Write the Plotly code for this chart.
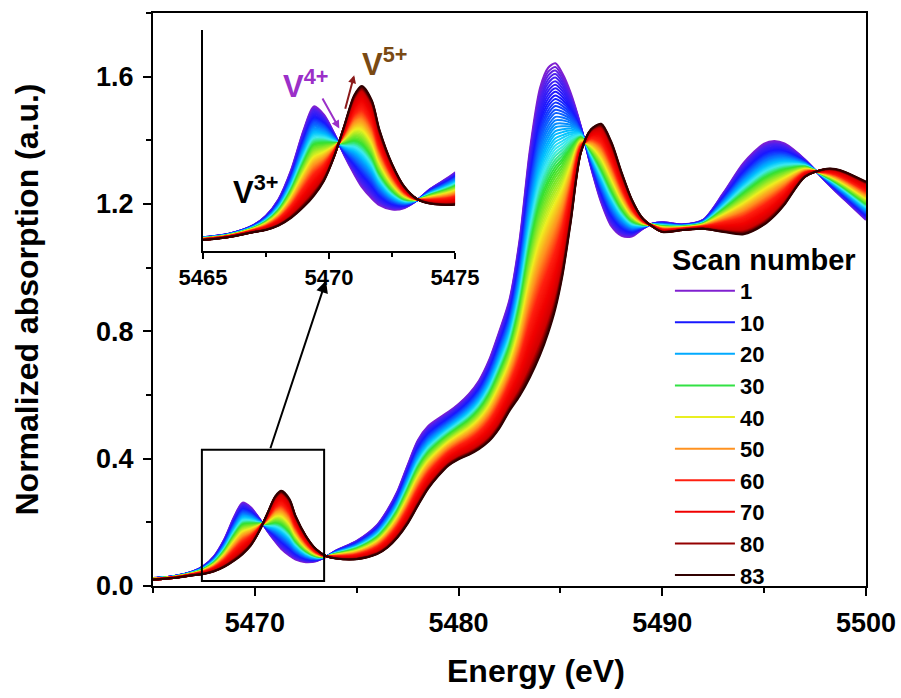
import plotly.graph_objects as go
from plotly.colors import sample_colorscale

# ---------------- data ----------------
energy = [5465, 5466, 5467, 5467.5, 5468, 5468.5, 5469, 5469.4, 5469.8, 5470.2,
          5470.6, 5471.0, 5471.3, 5471.7, 5472.0, 5472.5, 5473.0, 5473.5, 5474.0, 5475.0,
          5476.0, 5476.5, 5477.0, 5477.5, 5478.0, 5478.5, 5479.0, 5479.5, 5480.0, 5480.5,
          5481.0, 5481.5, 5482.0, 5482.5, 5483.0, 5483.5, 5484.0, 5484.4, 5484.75, 5485.1,
          5485.5, 5486.0, 5486.5, 5487.0, 5487.5, 5488.0, 5488.5, 5489.0, 5489.5, 5490.0,
          5491.0, 5492.0, 5493.0, 5494.0, 5495.0, 5495.5, 5496.0, 5497.0, 5498.0, 5498.5,
          5499.0, 5500.0]

# scan 1 (V4+ rich, purple)
scan_first = [0.025, 0.031, 0.047, 0.064, 0.094, 0.147, 0.220, 0.262, 0.247, 0.214,
              0.174, 0.139, 0.116, 0.095, 0.083, 0.075, 0.078, 0.092, 0.112, 0.142,
              0.192, 0.238, 0.298, 0.380, 0.458, 0.502, 0.526, 0.547, 0.572, 0.603,
              0.645, 0.710, 0.800, 0.900, 1.090, 1.370, 1.565, 1.628, 1.642, 1.610,
              1.550, 1.445, 1.315, 1.205, 1.130, 1.100, 1.098, 1.120, 1.138, 1.143,
              1.136, 1.150, 1.235, 1.330, 1.390, 1.398, 1.390, 1.340, 1.272, 1.240,
              1.210, 1.150]

# scan 83 (V5+ rich, dark red)
scan_last = [0.020, 0.025, 0.034, 0.038, 0.046, 0.060, 0.080, 0.100, 0.127, 0.170,
             0.226, 0.282, 0.299, 0.273, 0.220, 0.158, 0.116, 0.094, 0.086, 0.084,
             0.100, 0.120, 0.152, 0.196, 0.252, 0.305, 0.345, 0.378, 0.398, 0.412,
             0.430, 0.455, 0.495, 0.550, 0.597, 0.655, 0.725, 0.795, 0.870, 0.975,
             1.140, 1.360, 1.435, 1.452, 1.395, 1.300, 1.215, 1.158, 1.130, 1.112,
             1.118, 1.122, 1.112, 1.105, 1.135, 1.162, 1.198, 1.285, 1.310, 1.310,
             1.300, 1.270]

scan_numbers = list(range(1, 84))

# estimated V5+ fraction of each scan (read from band spacing)
v5_fraction = [0.000, 0.015, 0.029, 0.044, 0.058, 0.073, 0.087, 0.102, 0.116, 0.131,
               0.145, 0.160, 0.174, 0.189, 0.203, 0.218, 0.232, 0.247, 0.261, 0.276,
               0.290, 0.305, 0.319, 0.334, 0.348, 0.363, 0.377, 0.392, 0.406, 0.421,
               0.435, 0.450, 0.464, 0.479, 0.493, 0.508, 0.522, 0.537, 0.551, 0.566,
               0.576, 0.586, 0.596, 0.606, 0.616, 0.626, 0.636, 0.646, 0.656, 0.667,
               0.677, 0.687, 0.697, 0.707, 0.717, 0.727, 0.737, 0.747, 0.757, 0.768,
               0.778, 0.788, 0.798, 0.808, 0.818, 0.828, 0.838, 0.848, 0.858, 0.869,
               0.879, 0.889, 0.899, 0.909, 0.919, 0.929, 0.939, 0.949, 0.959, 0.970,
               0.980, 0.990, 1.000]

legend_scans = [1, 10, 20, 30, 40, 50, 60, 70, 80, 83]

# ---------------- styling ----------------
rainbow = [[0.00, '#8020d0'], [0.04, '#4a20f0'], [0.11, '#1818ff'], [0.19, '#0878ff'],
           [0.25, '#00c0ff'], [0.30, '#40ecf0'], [0.36, '#30e030'], [0.48, '#f0f020'],
           [0.60, '#ff9020'], [0.72, '#ff2010'], [0.84, '#f00000'], [0.94, '#d00000'],
           [0.965, '#900000'], [1.00, '#300000']]

FONT = 'Liberation Sans, Arial, sans-serif'

fig = go.Figure()
for n, f in zip(scan_numbers, v5_fraction):
    y = [(1 - f) * a + f * b for a, b in zip(scan_first, scan_last)]
    col = sample_colorscale(rainbow, (n - 1) / 82)[0]
    line = dict(color=col, width=2, shape='spline', smoothing=0.8)
    fig.add_trace(go.Scatter(x=energy, y=y, mode='lines', line=line, name=str(n),
                             legendgroup=str(n), showlegend=n in legend_scans,
                             hoverinfo='skip'))
    fig.add_trace(go.Scatter(x=energy, y=y, mode='lines', line=line, name=str(n),
                             xaxis='x2', yaxis='y2', showlegend=False, hoverinfo='skip'))

fig.update_layout(
    width=901, height=698,
    margin=dict(l=153, r=35, t=13, b=112, autoexpand=False),
    plot_bgcolor='white', paper_bgcolor='white',
    font=dict(family=FONT, color='black'),
    xaxis=dict(range=[5465, 5500], tickmode='linear', tick0=5470, dtick=10,
               ticks='outside', ticklen=8, tickwidth=2, tickcolor='black',
               ticklabelstandoff=4,
               showline=True, linewidth=2, linecolor='black', mirror=True,
               showgrid=False, zeroline=False,
               tickfont=dict(size=27, weight='bold'),
               minor=dict(tick0=5465, dtick=5, ticks='outside', ticklen=5,
                          tickwidth=2, tickcolor='black')),
    yaxis=dict(range=[0, 1.8], tickmode='linear', tick0=0, dtick=0.4, tickformat='.1f',
               ticks='outside', ticklen=8, tickwidth=2, tickcolor='black',
               ticklabelstandoff=4,
               showline=True, linewidth=2, linecolor='black', mirror=True,
               showgrid=False, zeroline=False,
               tickfont=dict(size=27, weight='bold'),
               minor=dict(tick0=0.2, dtick=0.4, ticks='outside', ticklen=5,
                          tickwidth=2, tickcolor='black'),
               title=dict(text='Normalized absorption (a.u.)',
                          font=dict(size=32, weight='bold'), standoff=48)),
    xaxis2=dict(domain=[0.070, 0.4236], anchor='y2', range=[5465, 5475],
                tickvals=[5465, 5470, 5475], ticks='outside', ticklen=6, tickwidth=2,
                tickcolor='black', showline=True, linewidth=2, linecolor='black',
                showgrid=False, zeroline=False,
                tickfont=dict(size=22, weight='bold'),
                minor=dict(tick0=5465, dtick=2.5, ticks='outside', ticklen=4,
                           tickwidth=2, tickcolor='black')),
    yaxis2=dict(domain=[0.5846, 0.970], anchor='x2', range=[0, 0.4],
                showticklabels=False, ticks='', showline=True, linewidth=2,
                linecolor='black', showgrid=False, zeroline=False),
    legend=dict(x=0.725, y=0.6175, xanchor='left', yanchor='top',
                bgcolor='rgba(0,0,0,0)', itemwidth=60, tracegroupgap=0,
                font=dict(size=22, weight='bold'),
                title=dict(text='Scan number', font=dict(size=29, weight='bold'))),
    showlegend=True,
)

# zoom box on the pre-edge
fig.add_shape(type='rect', xref='x', yref='y', x0=5467.4, x1=5473.4, y0=0.016, y1=0.428,
              line=dict(color='black', width=2))

annotations = [
    dict(x=5473.49, y=0.959, ax=5470.74, ay=0.428, xref='x', yref='y', axref='x', ayref='y',
         showarrow=True, arrowhead=2, arrowsize=1.2, arrowwidth=2, arrowcolor='black', text=''),
    dict(x=5470.41, y=0.222, ax=5469.71, ay=0.279, xref='x2', yref='y2', axref='x2', ayref='y2',
         showarrow=True, arrowhead=2, arrowsize=0.8, arrowwidth=2, arrowcolor='#9b30c8', text=''),
    dict(x=5471.0, y=0.3186, ax=5470.63, ay=0.255, xref='x2', yref='y2', axref='x2', ayref='y2',
         showarrow=True, arrowhead=2, arrowsize=0.8, arrowwidth=2, arrowcolor='#8b1a1a', text=''),
    dict(x=5467.1, y=0.110, xref='x2', yref='y2', showarrow=False,
         text='V<sup>3+</sup>', font=dict(size=31, color='black', weight='bold')),
    dict(x=5469.05, y=0.302, xref='x2', yref='y2', showarrow=False,
         text='V<sup>4+</sup>', font=dict(size=31, color='#9b30c8', weight='bold')),
    dict(x=5472.2, y=0.342, xref='x2', yref='y2', showarrow=False,
         text='V<sup>5+</sup>', font=dict(size=31, color='#7a4a14', weight='bold')),
    # x-axis title
    dict(x=0.537, y=-0.1475, xref='paper', yref='paper', showarrow=False,
         xanchor='center', yanchor='middle', text='Energy (eV)',
         font=dict(size=32, color='black', weight='bold')),
]
fig.update_layout(annotations=annotations)

fig.write_html('out.html')
